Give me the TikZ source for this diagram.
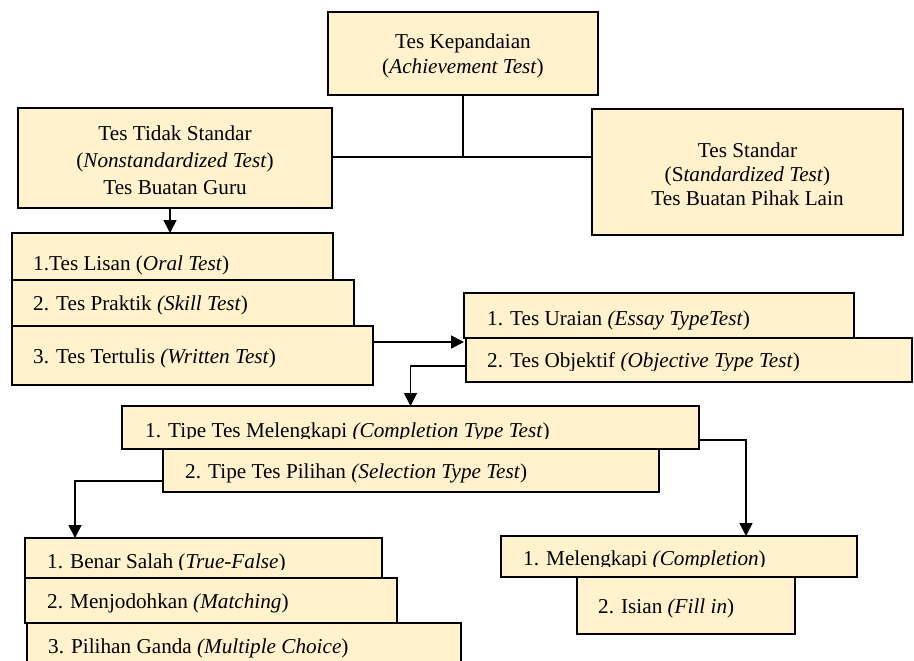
\documentclass[tikz,border=0pt]{standalone}
\usepackage{fontspec}
\setmainfont{Liberation Serif}
\usetikzlibrary{arrows.meta}
\definecolor{boxfill}{HTML}{FFF2CC}
\tikzset{
  box/.style={draw=black, line width=1.7pt, fill=boxfill, inner sep=0pt, outer sep=0pt, anchor=north west},
  txt/.style={inner sep=0pt, anchor=base west, font=\fontsize{21.2}{25}\selectfont},
  ctxt/.style={inner sep=0pt, anchor=center, align=center},
  conn/.style={draw=black, line width=1.7pt},
  arr/.style={conn, -{Triangle[length=13pt,width=13pt]}}
}
\begin{document}
\begin{tikzpicture}[x=1pt,y=-1pt]
\clip (0,0) rectangle (914,661);
\fill[white] (0,0) rectangle (914,661);

% top level
\node[box, minimum width=270, minimum height=83] (top) at (328,12) {};
\node[ctxt, font=\fontsize{21.2}{25}\selectfont] (ttop) at (463,55.5) {Tes Kepandaian\\(\textit{Achievement Test})};

\node[box, minimum width=314, minimum height=100] (tidak) at (18,108) {};
\node[ctxt, font=\fontsize{21.2}{27}\selectfont] (ttidak) at (175,160) {Tes Tidak Standar\\(\textit{Nonstandardized Test})\\Tes Buatan Guru};

\node[box, minimum width=311, minimum height=126] (standar) at (592,109) {};
\node[ctxt, font=\fontsize{21.2}{24}\selectfont] (tstandar) at (747.5,174) {Tes Standar\\(S\textit{tandardized Test})\\Tes Buatan Pihak Lain};

\coordinate (j) at (463,157);
\draw[conn] (top.south) -- (j);
\draw[conn] (tidak.east |- j) -- (standar.west |- j);

% kinds of teacher-made tests
\node[box, minimum width=321, minimum height=47] (lisan) at (12,233) {};
\node[txt] (tlisan) at (33,270) {1.Tes Lisan (\textit{Oral Test})};
\node[box, minimum width=342, minimum height=46] (praktik) at (12,280) {};
\node[txt] (tpraktik) at (33,310) {2. Tes Praktik \textit{(Skill Test})};
\node[box, minimum width=361, minimum height=59] (tertulis) at (12,326) {};
\node[txt] (ttertulis) at (33,363) {3. Tes Tertulis \textit{(Written Test})};

\draw[arr] ([xshift=-5pt]tidak.south) -- ([xshift=-5pt]tidak.south |- lisan.north);

% written test types
\node[box, minimum width=390, minimum height=45] (uraian) at (464,293) {};
\node[txt] (turaian) at (487,325) {1. Tes Uraian \textit{(Essay TypeTest})};
\node[box, minimum width=446, minimum height=44] (objektif) at (466,338) {};
\begin{scope}
\clip (466,338) rectangle (912,370);
\node[txt] (tobjektif) at (487,367) {2. Tes Objektif \textit{(Objective Type Test})};
\end{scope}

\draw[arr] (tertulis.east |- 0,342) -- (uraian.west |- 0,342);

% objective test types
\node[box, minimum width=577, minimum height=43] (melT) at (122,406) {};
\begin{scope}
\clip (122,406) rectangle (699,438.5);
\node[txt] (tmelT) at (145,437) {1. Tipe Tes Melengkapi \textit{(Completion Type Test})};
\end{scope}
\node[box, minimum width=496, minimum height=43] (pilT) at (163,449) {};
\node[txt] (tpilT) at (185,478) {2. Tipe Tes Pilihan \textit{(Selection Type Test})};

\draw[arr] (objektif.west |- 0,366) -| (melT.north);

% selection types
\node[box, minimum width=357, minimum height=40] (benar) at (25,538) {};
\begin{scope}
\clip (25,538) rectangle (382,569);
\node[txt] (tbenar) at (47,568) {1. Benar Salah (\textit{True-False})};
\end{scope}
\node[box, minimum width=372, minimum height=45] (jodoh) at (25,578) {};
\node[txt] (tjodoh) at (47,608) {2. Menjodohkan \textit{(Matching})};
\node[box, minimum width=434, minimum height=60] (ganda) at (27,623) {};
\node[txt] (tganda) at (48,653) {3. Pilihan Ganda \textit{(Multiple Choice})};

% completion types
\node[box, minimum width=356, minimum height=41] (compl) at (501,536) {};
\begin{scope}
\clip (501,536) rectangle (857,566);
\node[txt] (tcompl) at (523,565) {1. Melengkapi \textit{(Completion})};
\end{scope}
\node[box, minimum width=218, minimum height=57] (isian) at (577,577) {};
\node[txt] (tisian) at (598,613) {2. Isian \textit{(Fill in})};

\coordinate (c1) at (746,440);
\draw[arr] (melT.east |- c1) -- (c1) -- (c1 |- compl.north);
\coordinate (c2) at (75,481);
\draw[arr] (pilT.west |- c2) -- (c2) -- (c2 |- benar.north);
\end{tikzpicture}
\end{document}
